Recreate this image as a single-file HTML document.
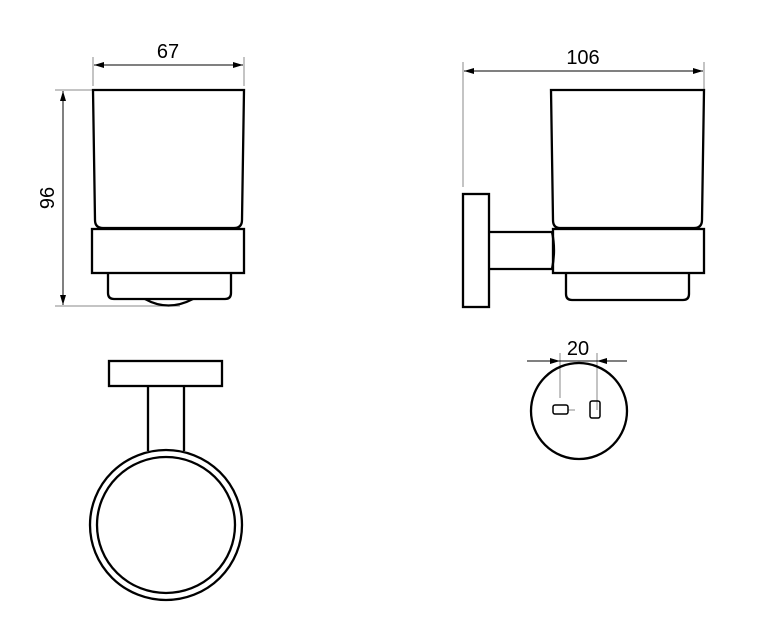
<!DOCTYPE html>
<html><head><style>body{margin:0;background:#fff}svg{display:block}</style></head><body>
<svg width="760" height="630" viewBox="0 0 760 630" xmlns="http://www.w3.org/2000/svg" font-family="Liberation Sans, sans-serif">
<defs><marker id="a" viewBox="0 0 10 6" refX="10" refY="3" markerWidth="16" markerHeight="6" orient="auto-start-reverse" markerUnits="userSpaceOnUse"><path d="M0,0L10,3L0,6z" fill="#000"/></marker></defs>
<g stroke="#888" stroke-width="1" fill="none">
<line x1="93" y1="57" x2="93" y2="86"/><line x1="244" y1="57" x2="244" y2="86"/>
<line x1="55" y1="90" x2="93" y2="90"/><line x1="55" y1="306" x2="180" y2="306"/>
<line x1="463" y1="62" x2="463" y2="187"/><line x1="704" y1="62" x2="704" y2="90"/>
<line x1="560" y1="353" x2="560" y2="398"/><line x1="597" y1="353" x2="597" y2="410"/>
<line x1="568" y1="410" x2="575" y2="410"/>
</g>
<g stroke="#000" stroke-width="1" fill="none">
<line x1="94" y1="65" x2="243" y2="65" marker-start="url(#a)" marker-end="url(#a)"/>
<line x1="63" y1="91" x2="63" y2="305" marker-start="url(#a)" marker-end="url(#a)"/>
<line x1="464" y1="71" x2="703" y2="71" marker-start="url(#a)" marker-end="url(#a)"/>
<line x1="527" y1="361" x2="560" y2="361" marker-end="url(#a)"/>
<line x1="627" y1="361" x2="597" y2="361" marker-end="url(#a)"/>
<line x1="560" y1="361" x2="597" y2="361"/>
</g>
<g fill="#000" font-size="20" text-anchor="middle">
<text x="168" y="58">67</text>
<text x="583" y="64">106</text>
<text x="578" y="355">20</text>
<text transform="translate(54,198) rotate(-90)">96</text>
</g>
<g stroke="#000" stroke-width="2.3" fill="none">
<path d="M93,90 H244 L242,220 Q242,228 234,228 H103 Q95,228 95,220 Z"/>
<rect x="92" y="229" width="152" height="44"/>
<path d="M108,273 V293 Q108,299 114,299 H225 Q231,299 231,293 V273"/>
<path d="M145,299 Q168,312 193,299"/>
<path d="M551,90 H704 L702,220 Q702,228 694,228 H560 Q553,228 553,220 Z"/>
<rect x="553" y="229" width="151" height="44"/>
<path d="M566,273 V294 Q566,300 572,300 H683 Q689,300 689,294 V273"/>
<rect x="463" y="194" width="26" height="113"/>
<path d="M489,232 H552 Q556,250 552,269 H489"/>
<rect x="109" y="361" width="113" height="25"/>
<line x1="148" y1="386" x2="148" y2="451"/><line x1="184" y1="386" x2="184" y2="451"/>
<ellipse cx="166" cy="525" rx="76" ry="75" fill="#fff"/>
<ellipse cx="166" cy="525" rx="69" ry="68"/>
<circle cx="579" cy="411" r="48"/>
<rect x="553" y="405" width="15" height="9" rx="2" stroke-width="1.5"/>
<rect x="590" y="401" width="10" height="17" rx="2" stroke-width="1.5"/>
</g>
</svg>
</body></html>
